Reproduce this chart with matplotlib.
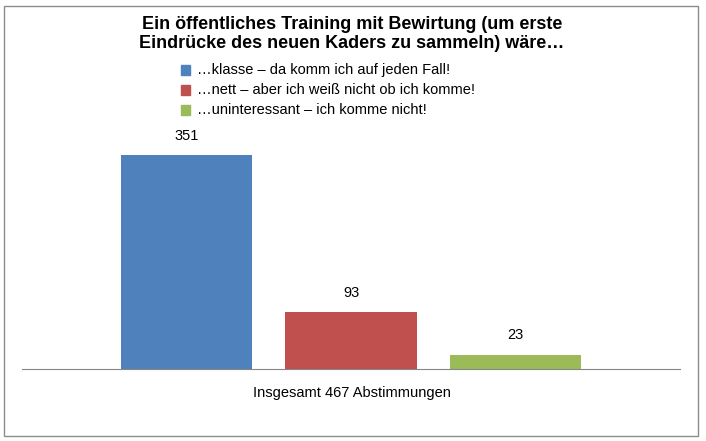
import matplotlib.pyplot as plt
from matplotlib.patches import Rectangle

categories = ["…klasse – da komm ich auf jeden Fall!",
              "…nett – aber ich weiß nicht ob ich komme!",
              "…uninteressant – ich komme nicht!"]
votes = [351, 93, 23]
colors = ["#4F81BD", "#C0504D", "#9BBB59"]
title = "Ein öffentliches Training mit Bewirtung (um erste\nEindrücke des neuen Kaders zu sammeln) wäre…"
xlabel = "Insgesamt 467 Abstimmungen"

W, H = 706, 441
fig = plt.figure(figsize=(W / 100, H / 100), dpi=100)
plt.rcParams['font.family'] = ['Liberation Sans', 'DejaVu Sans']

# chart border
fig.patches.append(Rectangle((4 / W, 5 / H), 694 / W, 430 / H, transform=fig.transFigure,
                             fill=False, edgecolor="#8c8c8c", lw=1))

ax = fig.add_axes([22 / W, 1 - 369 / H, 658 / W, 269 / H])
x = range(len(votes))
ax.bar(x, votes, width=0.8, color=colors)
ax.set_xlim(-1, 3)
ax.set_ylim(0, 351 * 269 / 214)
for xi, v in zip(x, votes):
    ax.annotate(str(v), (xi, v), xytext=(0, 9), textcoords="offset points",
                ha="center", va="bottom", fontsize=10.5)
for s in ["top", "right", "left"]:
    ax.spines[s].set_visible(False)
ax.spines["bottom"].set_color("#868686")
ax.set_xticks([])
ax.set_yticks([])

fig.text(352 / W, 1 - 34 / H, title, ha="center", va="center", fontsize=13,
         fontweight="bold", linespacing=1.15)
for i, (c, col) in enumerate(zip(categories, colors)):
    y = 1 - (70 + 20 * i) / H
    fig.patches.append(Rectangle((181 / W, y - 4.5 / H), 9 / W, 9 / H,
                                 transform=fig.transFigure, color=col))
    fig.text(197 / W, y, c, ha="left", va="center", fontsize=10.5)
fig.text(352 / W, 1 - 393 / H, xlabel, ha="center", va="center", fontsize=10.5)

fig.savefig("out.png", dpi=100)
